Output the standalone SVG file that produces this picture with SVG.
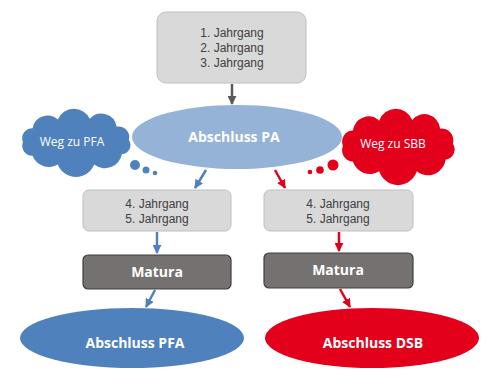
<svg xmlns="http://www.w3.org/2000/svg" width="483" height="370" viewBox="0 0 483 370">
<style>
.box{fill:#d9d9d9;stroke:#bfbfbf;stroke-width:1}
.mat{fill:#767171;stroke:#3f3f3f;stroke-width:1.2}
.t{font-family:"Liberation Sans","Open Sans",sans-serif;font-size:12px;fill:#404040;text-anchor:middle}
.w{font-family:"Open Sans","Noto Sans",sans-serif;font-size:12px;fill:#ffffff;text-anchor:middle}
.b{font-family:"Open Sans","Noto Sans",sans-serif;font-size:14px;font-weight:bold;fill:#ffffff;text-anchor:middle}
.cg{stroke:#595959;stroke-width:2.5;fill:none}
.cb{stroke:#4f81bd;stroke-width:2.5;fill:none}
.cr{stroke:#e3001b;stroke-width:2.5;fill:none}
</style>
<defs>
<marker id="ag" viewBox="0 0 10 10" refX="9" refY="5" markerWidth="9" markerHeight="9" markerUnits="userSpaceOnUse" orient="auto"><path d="M0,0 L10,5 L0,10 z" fill="#595959"/></marker>
<marker id="ab" viewBox="0 0 10 10" refX="9" refY="5" markerWidth="9" markerHeight="9" markerUnits="userSpaceOnUse" orient="auto"><path d="M0,0 L10,5 L0,10 z" fill="#4f81bd"/></marker>
<marker id="ar" viewBox="0 0 10 10" refX="9" refY="5" markerWidth="9" markerHeight="9" markerUnits="userSpaceOnUse" orient="auto"><path d="M0,0 L10,5 L0,10 z" fill="#e3001b"/></marker>
<path id="cloud" d="M-52,0 A10,10 0 0 1 -42.6,-13.8 A15,15 0 0 1 -17.8,-22.6 A17,17 0 0 1 13.5,-23.2 A15,15 0 0 1 39.8,-15.4 A10.5,10.5 0 0 1 51.8,-2.1 A9,9 0 0 1 45,12 A17,17 0 0 1 17.8,22.6 A19,19 0 0 1 -17.8,22.6 A17,17 0 0 1 -42.6,13.8 A10,10 0 0 1 -52,0 Z"/>
</defs>

<g id="jahrgang123">
<rect class="box" x="157" y="12" width="149" height="71" rx="9"/>
<text class="t" x="232" y="37">1. Jahrgang</text>
<text class="t" x="232" y="52">2. Jahrgang</text>
<text class="t" x="232" y="67">3. Jahrgang</text>
</g>

<g id="abschlussPA">
<ellipse cx="237" cy="137" rx="105" ry="32" fill="#95b3d7"/>
<text class="b" x="234" y="142">Abschluss PA</text>
</g>

<g id="wegPFA">
<use href="#cloud" transform="translate(76,142) scale(1.02,1.0)" fill="#4f81bd"/>
<circle cx="135" cy="165" r="5" fill="#4f81bd"/>
<circle cx="146" cy="170" r="3.5" fill="#4f81bd"/>
<circle cx="155" cy="173" r="2.3" fill="#4f81bd"/>
<text class="w" x="72" y="146">Weg zu PFA</text>
</g>

<g id="wegSBB">
<use href="#cloud" transform="translate(398,146) scale(1.06,1.12)" fill="#e3001b"/>
<circle cx="333" cy="165" r="5.5" fill="#e3001b"/>
<circle cx="320" cy="170" r="3.8" fill="#e3001b"/>
<circle cx="310" cy="172" r="2.3" fill="#e3001b"/>
<text class="w" x="393" y="148">Weg zu SBB</text>
</g>

<g id="jahrgang45links">
<rect class="box" x="83" y="190" width="148" height="41" rx="6"/>
<text class="t" x="157" y="208">4. Jahrgang</text>
<text class="t" x="157" y="223">5. Jahrgang</text>
</g>

<g id="jahrgang45rechts">
<rect class="box" x="264" y="190" width="149" height="41" rx="6"/>
<text class="t" x="338" y="208">4. Jahrgang</text>
<text class="t" x="338" y="223">5. Jahrgang</text>
</g>

<g id="maturaLinks">
<rect class="mat" x="83" y="255" width="148" height="34" rx="5"/>
<text class="b" x="157" y="277">Matura</text>
</g>

<g id="maturaRechts">
<rect class="mat" x="264" y="253" width="149" height="35" rx="5"/>
<text class="b" x="338" y="275">Matura</text>
</g>

<g id="abschlussPFA">
<ellipse cx="132" cy="338" rx="112" ry="30" fill="#4f81bd"/>
<text class="b" x="135" y="348">Abschluss PFA</text>
</g>

<g id="abschlussDSB">
<ellipse cx="372" cy="338" rx="107" ry="30" fill="#e3001b"/>
<text class="b" x="373" y="348">Abschluss DSB</text>
</g>

<g id="connectors">
<line class="cg" x1="232" y1="84" x2="232" y2="104" marker-end="url(#ag)"/>
<line class="cb" x1="206" y1="170" x2="195" y2="188" marker-end="url(#ab)"/>
<line class="cr" x1="275" y1="170" x2="285" y2="188" marker-end="url(#ar)"/>
<line class="cb" x1="157" y1="232" x2="157" y2="253" marker-end="url(#ab)"/>
<line class="cr" x1="339" y1="232" x2="339" y2="251" marker-end="url(#ar)"/>
<line class="cb" x1="155" y1="290" x2="146" y2="307" marker-end="url(#ab)"/>
<line class="cr" x1="340" y1="289" x2="350" y2="307" marker-end="url(#ar)"/>
</g>
</svg>
